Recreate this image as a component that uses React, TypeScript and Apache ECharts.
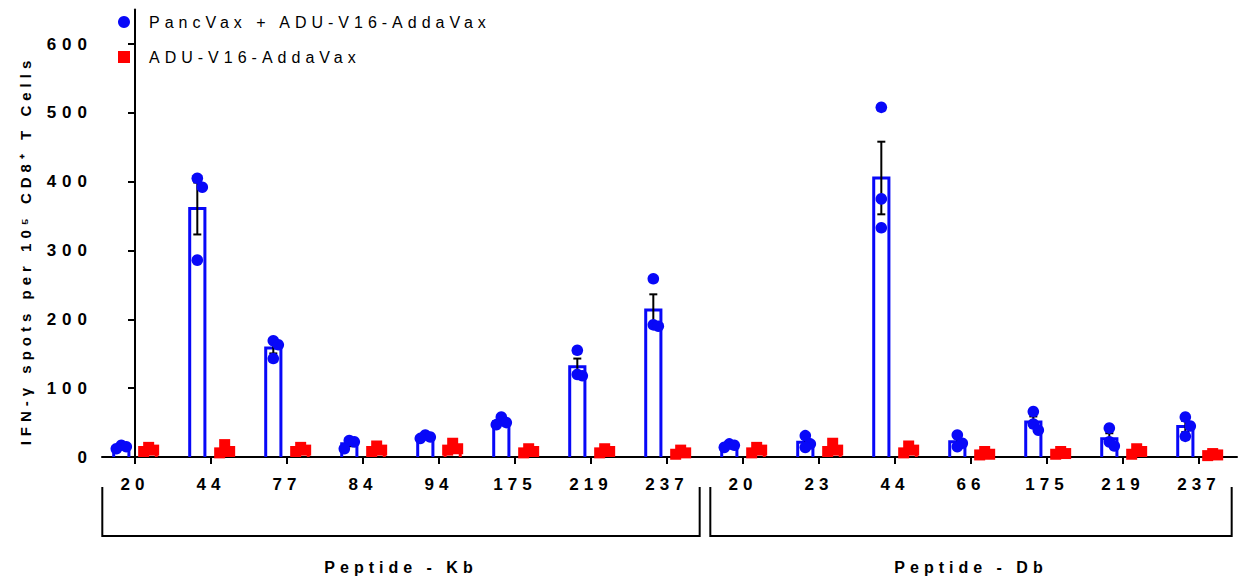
import React, { useEffect, useRef } from "react";
import * as echarts from "echarts";

const FONT = "'Liberation Sans', Arial, sans-serif";
const BLUE = "#0808f8";
const RED = "#ff0000";

const categories = ["20", "44", "77", "84", "94", "175", "219", "237", "20", "23", "44", "66", "175", "219", "237"];
const peptideGroups = [
  { name: "Peptide - Kb", from: 0, to: 7 },
  { name: "Peptide - Db", from: 8, to: 14 },
];
const seriesNames = ["PancVax + ADU-V16-AddaVax", "ADU-V16-AddaVax"];
const yAxisTitle = "IFN-γ spots per 10⁵ CD8⁺ T Cells";
const blueValues = [
  [15, 12, 17], [405, 392, 286], [169, 163, 143], [24, 22, 12], [32, 29, 27],
  [58, 50, 47], [155, 120, 118], [259, 192, 190],
  [19, 17, 14], [31, 19, 14], [508, 375, 333], [32, 20, 15], [66, 48, 39], [42, 22, 16], [58, 45, 30],
];
const redValues = [
  [14, 8, 10], [18, 6, 8], [14, 10, 8], [16, 10, 8], [20, 12, 10],
  [12, 8, 6], [12, 8, 6], [10, 6, 4],
  [14, 10, 6], [20, 10, 8], [16, 10, 6], [8, 4, 3], [8, 5, 4], [12, 8, 4], [5, 3, 2],
];
const yTicks = [0, 100, 200, 300, 400, 500, 600];

function stats(v: number[]) {
  const n = v.length;
  const m = v.reduce((a, b) => a + b, 0) / n;
  const sd = Math.sqrt(v.reduce((a, b) => a + (b - m) * (b - m), 0) / (n - 1));
  return [m, sd / Math.sqrt(n)];
}

function makeRender(values: number[][], color: string, offset: number, shape: "circle" | "square") {
  return (params: any, api: any) => {
    const i = api.value(0);
    const mean = api.value(1);
    const sem = api.value(2);
    const unit = api.size([1, 0])[0];
    const xc = api.coord([i + offset, 0])[0];
    const y0 = api.coord([i, 0])[1];
    const yTop = api.coord([i, mean])[1];
    const bw = unit * 0.2;
    const children: any[] = [];
    children.push({
      type: "polyline",
      shape: { points: [[xc - bw / 2, y0], [xc - bw / 2, yTop], [xc + bw / 2, yTop], [xc + bw / 2, y0]] },
      style: { stroke: color, lineWidth: 3, fill: null },
    });
    const yHi = api.coord([i, mean + sem])[1];
    const yLo = api.coord([i, Math.max(0, mean - sem)])[1];
    const cap = 4;
    children.push({ type: "line", shape: { x1: xc, y1: yHi, x2: xc, y2: yLo }, style: { stroke: "#000", lineWidth: 2 } });
    children.push({ type: "line", shape: { x1: xc - cap, y1: yHi, x2: xc + cap, y2: yHi }, style: { stroke: "#000", lineWidth: 2 } });
    children.push({ type: "line", shape: { x1: xc - cap, y1: yLo, x2: xc + cap, y2: yLo }, style: { stroke: "#000", lineWidth: 2 } });
    // simple dot-plot spreading
    const pts = values[i].slice().sort((a, b) => b - a);
    const placed: number[][] = [];
    const step = 5;
    const offs = [0, step, -step, 2 * step, -2 * step];
    pts.forEach((v) => {
      const py = api.coord([i, v])[1];
      let dx = 0;
      for (const o of offs) {
        const clash = placed.some((p) => Math.abs(p[1] - py) < 10 && Math.abs(p[0] - o) < step);
        if (!clash) { dx = o; break; }
      }
      placed.push([dx, py]);
      if (shape === "circle") {
        children.push({ type: "circle", shape: { cx: xc + dx, cy: py, r: 5.8 }, style: { fill: color } });
      } else {
        children.push({ type: "rect", shape: { x: xc + dx - 5.5, y: py - 5.5, width: 11, height: 11 }, style: { fill: color } });
      }
    });
    return { type: "group", children };
  };
}

export default function App() {
  const ref = useRef<HTMLDivElement>(null);
  useEffect(() => {
    if (!ref.current) return;
    const chart = echarts.init(ref.current, null, { renderer: "svg" });
    const blueData = blueValues.map((v, i) => [i, ...stats(v)]);
    const redData = redValues.map((v, i) => [i, ...stats(v)]);
    const axisText = { color: "#000", fontWeight: "bold" as const, fontSize: 17, fontFamily: FONT };
    chart.setOption({
      animation: false,
      textStyle: { fontFamily: FONT },
      grid: { left: 102, right: 7, top: 9.6, bottom: 127 },
      legend: {
        orient: "vertical",
        left: 113,
        top: 9,
        itemWidth: 12,
        itemHeight: 12,
        itemGap: 19,
        textStyle: { color: "#000", fontSize: 16, fontFamily: FONT, padding: [0, 0, 0, 14] },
        data: [
          { name: seriesNames[0], icon: "circle", itemStyle: { color: BLUE } },
          { name: seriesNames[1], icon: "rect", itemStyle: { color: RED } },
        ],
      },
      xAxis: {
        type: "value",
        min: -0.434,
        max: 14.5,
        splitLine: { show: false },
        axisLine: { show: true, onZero: false, lineStyle: { color: "#000", width: 2 } },
        axisTick: { show: true, length: 7, lineStyle: { color: "#000", width: 2 }, customValues: categories.map((_, i) => i) },
        axisLabel: {
          ...axisText,
          margin: 19,
          customValues: categories.map((_, i) => i),
          formatter: (v: number) => categories[Math.round(v)] ?? "",
        },
      },
      yAxis: {
        type: "value",
        min: 0,
        max: 650,
        interval: 100,
        splitLine: { show: false },
        axisLine: { show: true, lineStyle: { color: "#000", width: 2 } },
        axisTick: { show: true, length: 7, lineStyle: { color: "#000", width: 2 }, customValues: yTicks },
        axisLabel: { ...axisText, margin: 9, customValues: yTicks },
      },
      series: [
        {
          name: seriesNames[0],
          type: "custom",
          itemStyle: { color: BLUE },
          renderItem: makeRender(blueValues, BLUE, -0.18, "circle"),
          data: blueData,
          z: 3,
        },
        {
          name: seriesNames[1],
          type: "custom",
          itemStyle: { color: RED },
          renderItem: makeRender(redValues, RED, 0.18, "square"),
          data: redData,
          z: 3,
        },
      ],
    });
    const yAxisPix = chart.convertToPixel({ yAxisIndex: 0 }, 0) as number;
    const yMid = chart.convertToPixel({ yAxisIndex: 0 }, 300) as number;
    const axisX = chart.convertToPixel({ xAxisIndex: 0 }, -0.434) as number;
    const top = yAxisPix + 30;
    const bottom = yAxisPix + 79;
    const graphic: any[] = [
      {
        type: "text",
        x: axisX - 77,
        y: yMid,
        rotation: Math.PI / 2,
        style: { text: yAxisTitle, fill: "#000", font: `bold 15px ${FONT}`, align: "center", verticalAlign: "middle" },
      },
    ];
    peptideGroups.forEach((g) => {
      const x1 = chart.convertToPixel({ xAxisIndex: 0 }, g.from - 0.43) as number;
      const x2 = chart.convertToPixel({ xAxisIndex: 0 }, g.to + 0.43) as number;
      graphic.push({
        type: "polyline",
        shape: { points: [[x1, top], [x1, bottom], [x2, bottom], [x2, top]] },
        style: { stroke: "#000", lineWidth: 2, fill: null },
      });
      graphic.push({
        type: "text",
        x: (x1 + x2) / 2,
        y: yAxisPix + 110,
        style: { text: g.name, fill: "#000", font: `bold 16px ${FONT}`, align: "center", verticalAlign: "middle" },
      });
    });
    chart.setOption({ graphic });
    return () => chart.dispose();
  }, []);
  return (
    <>
      <style>{".ls-root text { letter-spacing: 5px; } .ls-root text[text-anchor='end'] { letter-spacing: 6px; }"}</style>
      <div
        ref={ref}
        className="ls-root"
        style={{ position: "absolute", left: 0, top: 0, width: 1244, height: 584, background: "#fff" }}
      />
    </>
  );
}
